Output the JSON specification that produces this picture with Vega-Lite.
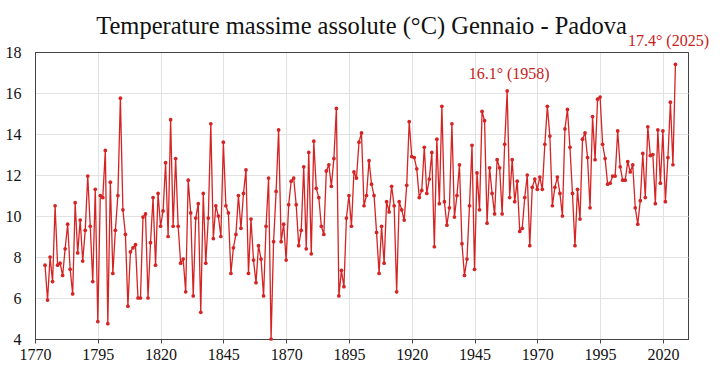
{
  "$schema": "https://vega.github.io/schema/vega-lite/v6.json",
  "width": 653,
  "height": 287,
  "autosize": {"type": "none"},
  "padding": {"left": 35, "top": 52, "right": 32, "bottom": 36},
  "background": "white",
  "config": {"view": {"stroke": "#444", "strokeWidth": 1}, "font": "Liberation Serif"},
  "title": {"text": "Temperature massime assolute (°C) Gennaio - Padova", "font": "Liberation Serif", "fontSize": 24.5, "fontWeight": "normal", "color": "#111", "anchor": "middle", "offset": 15, "dy": 21},
  "data": {"values": [
    {"anno":1774,"tmax":7.6},{"anno":1775,"tmax":5.9},{"anno":1776,"tmax":8.0},{"anno":1777,"tmax":6.8},{"anno":1778,"tmax":10.5},{"anno":1779,"tmax":7.6},{"anno":1780,"tmax":7.7},{"anno":1781,"tmax":7.1},{"anno":1782,"tmax":8.4},{"anno":1783,"tmax":9.6},{"anno":1784,"tmax":7.4},{"anno":1785,"tmax":6.2},{"anno":1786,"tmax":10.65},{"anno":1787,"tmax":8.2},{"anno":1788,"tmax":9.8},{"anno":1789,"tmax":7.8},{"anno":1790,"tmax":9.3},{"anno":1791,"tmax":11.95},{"anno":1792,"tmax":9.5},{"anno":1793,"tmax":6.8},{"anno":1794,"tmax":11.3},{"anno":1795,"tmax":4.85},{"anno":1796,"tmax":11.0},{"anno":1797,"tmax":10.9},{"anno":1798,"tmax":13.2},{"anno":1799,"tmax":4.75},
    {"anno":1800,"tmax":11.65},{"anno":1801,"tmax":7.2},{"anno":1802,"tmax":9.3},{"anno":1803,"tmax":11.0},{"anno":1804,"tmax":15.75},{"anno":1805,"tmax":10.3},{"anno":1806,"tmax":9.1},{"anno":1807,"tmax":5.6},{"anno":1808,"tmax":8.25},{"anno":1809,"tmax":8.45},{"anno":1810,"tmax":8.6},{"anno":1811,"tmax":6.0},{"anno":1812,"tmax":6.0},{"anno":1813,"tmax":9.95},{"anno":1814,"tmax":10.1},{"anno":1815,"tmax":6.0},{"anno":1816,"tmax":8.7},{"anno":1817,"tmax":10.9},{"anno":1818,"tmax":7.6},{"anno":1819,"tmax":11.1},
    {"anno":1820,"tmax":9.5},{"anno":1821,"tmax":10.25},{"anno":1822,"tmax":12.6},{"anno":1823,"tmax":9.0},{"anno":1824,"tmax":14.7},{"anno":1825,"tmax":9.5},{"anno":1826,"tmax":12.8},{"anno":1827,"tmax":9.5},{"anno":1828,"tmax":7.7},{"anno":1829,"tmax":7.9},{"anno":1830,"tmax":6.3},{"anno":1831,"tmax":11.75},{"anno":1832,"tmax":10.15},{"anno":1833,"tmax":6.1},{"anno":1834,"tmax":9.9},{"anno":1835,"tmax":10.6},{"anno":1836,"tmax":5.3},{"anno":1837,"tmax":11.1},{"anno":1838,"tmax":7.7},{"anno":1839,"tmax":9.9},
    {"anno":1840,"tmax":14.5},{"anno":1841,"tmax":8.9},{"anno":1842,"tmax":10.5},{"anno":1843,"tmax":10.0},{"anno":1844,"tmax":9.0},{"anno":1845,"tmax":13.6},{"anno":1846,"tmax":10.5},{"anno":1847,"tmax":10.15},{"anno":1848,"tmax":7.2},{"anno":1849,"tmax":8.45},{"anno":1850,"tmax":9.1},{"anno":1851,"tmax":11.0},{"anno":1852,"tmax":9.4},{"anno":1853,"tmax":11.1},{"anno":1854,"tmax":12.25},{"anno":1855,"tmax":7.2},{"anno":1856,"tmax":9.85},{"anno":1857,"tmax":7.85},{"anno":1858,"tmax":6.75},{"anno":1859,"tmax":8.55},
    {"anno":1860,"tmax":7.9},{"anno":1861,"tmax":6.1},{"anno":1862,"tmax":9.5},{"anno":1863,"tmax":11.85},{"anno":1864,"tmax":4.0},{"anno":1865,"tmax":8.75},{"anno":1866,"tmax":11.2},{"anno":1867,"tmax":14.2},{"anno":1868,"tmax":8.75},{"anno":1869,"tmax":9.6},{"anno":1870,"tmax":7.85},{"anno":1871,"tmax":10.55},{"anno":1872,"tmax":11.7},{"anno":1873,"tmax":11.85},{"anno":1874,"tmax":10.55},{"anno":1875,"tmax":8.55},{"anno":1876,"tmax":9.3},{"anno":1877,"tmax":12.4},{"anno":1878,"tmax":8.4},{"anno":1879,"tmax":13.1},
    {"anno":1880,"tmax":8.15},{"anno":1881,"tmax":13.65},{"anno":1882,"tmax":11.35},{"anno":1883,"tmax":10.9},{"anno":1884,"tmax":9.5},{"anno":1885,"tmax":9.1},{"anno":1886,"tmax":12.2},{"anno":1887,"tmax":12.5},{"anno":1888,"tmax":11.45},{"anno":1889,"tmax":12.8},{"anno":1890,"tmax":15.25},{"anno":1891,"tmax":6.1},{"anno":1892,"tmax":7.35},{"anno":1893,"tmax":6.55},{"anno":1894,"tmax":9.9},{"anno":1895,"tmax":11.0},{"anno":1896,"tmax":9.5},{"anno":1897,"tmax":12.15},{"anno":1898,"tmax":11.85},{"anno":1899,"tmax":13.6},
    {"anno":1900,"tmax":14.05},{"anno":1901,"tmax":10.5},{"anno":1902,"tmax":11.0},{"anno":1903,"tmax":12.7},{"anno":1904,"tmax":11.55},{"anno":1905,"tmax":11.0},{"anno":1906,"tmax":9.2},{"anno":1907,"tmax":7.2},{"anno":1908,"tmax":9.5},{"anno":1909,"tmax":7.7},{"anno":1910,"tmax":10.7},{"anno":1911,"tmax":10.2},{"anno":1912,"tmax":11.45},{"anno":1913,"tmax":10.5},{"anno":1914,"tmax":6.3},{"anno":1915,"tmax":10.7},{"anno":1916,"tmax":10.3},{"anno":1917,"tmax":9.8},{"anno":1918,"tmax":11.5},{"anno":1919,"tmax":14.6},
    {"anno":1920,"tmax":12.9},{"anno":1921,"tmax":12.85},{"anno":1922,"tmax":12.3},{"anno":1923,"tmax":10.9},{"anno":1924,"tmax":11.25},{"anno":1925,"tmax":13.35},{"anno":1926,"tmax":11.1},{"anno":1927,"tmax":11.8},{"anno":1928,"tmax":13.1},{"anno":1929,"tmax":8.5},{"anno":1930,"tmax":13.75},{"anno":1931,"tmax":10.6},{"anno":1932,"tmax":15.35},{"anno":1933,"tmax":10.7},{"anno":1934,"tmax":9.55},{"anno":1935,"tmax":10.4},{"anno":1936,"tmax":14.5},{"anno":1937,"tmax":9.95},{"anno":1938,"tmax":11.0},{"anno":1939,"tmax":12.5},
    {"anno":1940,"tmax":8.65},{"anno":1941,"tmax":7.1},{"anno":1942,"tmax":7.9},{"anno":1943,"tmax":10.5},{"anno":1944,"tmax":13.45},{"anno":1945,"tmax":7.4},{"anno":1946,"tmax":12.1},{"anno":1947,"tmax":10.3},{"anno":1948,"tmax":15.1},{"anno":1949,"tmax":14.65},{"anno":1950,"tmax":9.65},{"anno":1951,"tmax":12.35},{"anno":1952,"tmax":11.1},{"anno":1953,"tmax":10.1},{"anno":1954,"tmax":12.75},{"anno":1955,"tmax":12.35},{"anno":1956,"tmax":10.1},{"anno":1957,"tmax":13.5},{"anno":1958,"tmax":16.1},{"anno":1959,"tmax":10.9},
    {"anno":1960,"tmax":12.75},{"anno":1961,"tmax":10.7},{"anno":1962,"tmax":11.7},{"anno":1963,"tmax":9.25},{"anno":1964,"tmax":9.4},{"anno":1965,"tmax":10.9},{"anno":1966,"tmax":12.0},{"anno":1967,"tmax":8.55},{"anno":1968,"tmax":11.4},{"anno":1969,"tmax":11.8},{"anno":1970,"tmax":11.3},{"anno":1971,"tmax":11.9},{"anno":1972,"tmax":11.3},{"anno":1973,"tmax":13.5},{"anno":1974,"tmax":15.35},{"anno":1975,"tmax":13.9},{"anno":1976,"tmax":10.5},{"anno":1977,"tmax":11.4},{"anno":1978,"tmax":11.9},{"anno":1979,"tmax":11.1},
    {"anno":1980,"tmax":10.0},{"anno":1981,"tmax":14.25},{"anno":1982,"tmax":15.2},{"anno":1983,"tmax":13.35},{"anno":1984,"tmax":11.1},{"anno":1985,"tmax":8.55},{"anno":1986,"tmax":11.3},{"anno":1987,"tmax":9.85},{"anno":1988,"tmax":13.75},{"anno":1989,"tmax":14.05},{"anno":1990,"tmax":12.85},{"anno":1991,"tmax":10.4},{"anno":1992,"tmax":14.85},{"anno":1993,"tmax":12.75},{"anno":1994,"tmax":15.7},{"anno":1995,"tmax":15.8},{"anno":1996,"tmax":13.5},{"anno":1997,"tmax":12.8},{"anno":1998,"tmax":11.55},{"anno":1999,"tmax":11.6},
    {"anno":2000,"tmax":11.95},{"anno":2001,"tmax":11.95},{"anno":2002,"tmax":14.15},{"anno":2003,"tmax":12.4},{"anno":2004,"tmax":11.75},{"anno":2005,"tmax":11.75},{"anno":2006,"tmax":12.65},{"anno":2007,"tmax":12.15},{"anno":2008,"tmax":12.5},{"anno":2009,"tmax":10.4},{"anno":2010,"tmax":9.6},{"anno":2011,"tmax":10.75},{"anno":2012,"tmax":13.05},{"anno":2013,"tmax":10.9},{"anno":2014,"tmax":14.35},{"anno":2015,"tmax":12.95},{"anno":2016,"tmax":13.0},{"anno":2017,"tmax":10.6},{"anno":2018,"tmax":14.2},{"anno":2019,"tmax":11.6},
    {"anno":2020,"tmax":14.15},{"anno":2021,"tmax":10.7},{"anno":2022,"tmax":12.85},{"anno":2023,"tmax":15.55},{"anno":2024,"tmax":12.5},{"anno":2025,"tmax":17.4}
  ]},
  "encoding": {
    "x": {"field": "anno", "type": "quantitative",
      "scale": {"domain": [1770, 2030], "nice": false, "zero": false},
      "axis": {"title": null, "values": [1770,1795,1820,1845,1870,1895,1920,1945,1970,1995,2020], "format": "d", "grid": true,
        "gridColor": {"condition": {"test": "datum.value == 1770", "value": "#444"}, "value": "#e2e2e2"},
        "domain": true, "domainColor": "#444", "ticks": true, "tickColor": "#444", "tickSize": 4, "labelFont": "Liberation Serif", "labelFontSize": 16, "labelColor": "#111", "labelPadding": 3, "labelFlush": false, "labelOverlap": false}},
    "y": {"field": "tmax", "type": "quantitative",
      "scale": {"domain": [4, 18], "nice": false, "zero": false},
      "axis": {"title": null, "values": [4,6,8,10,12,14,16,18], "grid": true,
        "gridColor": {"condition": {"test": "datum.value == 18 || datum.value == 4", "value": "#444"}, "value": "#e2e2e2"},
        "domain": true, "domainColor": "#444", "ticks": false, "labelFont": "Liberation Serif", "labelFontSize": 16, "labelColor": "#111", "labelPadding": 14, "labelFlush": false, "labelOverlap": false}}
  },
  "layer": [
    {"mark": {"type": "line", "color": "#d42424", "strokeWidth": 1.3, "point": {"filled": true, "size": 14, "color": "#d42424"}}},
    {"transform": [{"filter": "datum.anno == 1958"}],
     "mark": {"type": "text", "text": "16.1° (1958)", "color": "#c82020", "font": "Liberation Serif", "fontSize": 16, "dy": -17, "dx": 2}},
    {"transform": [{"filter": "datum.anno == 2025"}],
     "mark": {"type": "text", "text": "17.4° (2025)", "color": "#c82020", "font": "Liberation Serif", "fontSize": 16, "dy": -23, "dx": -7}}
  ]
}
